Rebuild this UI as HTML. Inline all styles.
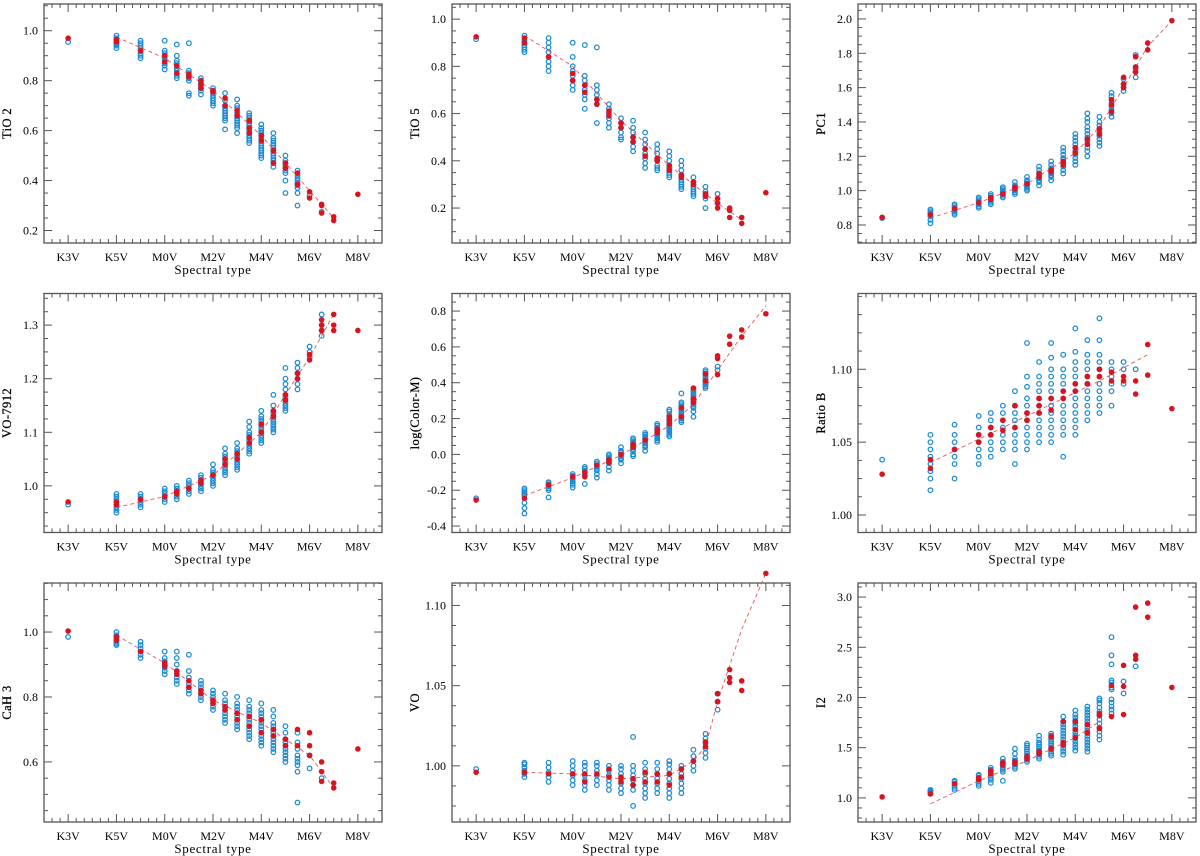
<!DOCTYPE html>
<html><head><meta charset="utf-8">
<style>
html,body{margin:0;padding:0;background:#fff;}
svg{display:block;font-family:"Liberation Serif",serif;}
</style></head>
<body>
<svg id="fig" width="1200" height="856" viewBox="0 0 1200 856"></svg>
<script>
// ---- shared data ----
const xLabels = ["K3V","K5V","M0V","M2V","M4V","M6V","M8V"];
const xLabelPos = [0,2,4,6,8,10,12];
const cols = [0,2,3,4,4.5,5,5.5,6,6.5,7,7.5,8,8.5,9,9.5,10,10.5,11,12];

// ---- panel 1: TiO 2 ----
const tio2Blue = [[0.955],[0.93,0.94,0.945,0.95,0.96,0.97,0.98],[0.89,0.90,0.91,0.92,0.93,0.94,0.95,0.96],[0.845,0.86,0.87,0.88,0.89,0.90,0.91,0.92,0.96],[0.81,0.82,0.84,0.85,0.87,0.88,0.90,0.945],[0.74,0.75,0.80,0.81,0.82,0.83,0.84,0.95],[0.745,0.76,0.77,0.78,0.79,0.80,0.81],[0.70,0.71,0.72,0.73,0.74,0.75,0.76,0.77],[0.605,0.64,0.65,0.66,0.67,0.68,0.69,0.70,0.72,0.75],[0.59,0.61,0.62,0.63,0.64,0.65,0.66,0.67,0.69,0.70,0.725],[0.55,0.56,0.57,0.58,0.59,0.60,0.61,0.62,0.63,0.64,0.65,0.66,0.67],[0.49,0.50,0.51,0.52,0.53,0.54,0.55,0.56,0.57,0.58,0.59,0.60,0.61,0.625],[0.455,0.47,0.48,0.49,0.50,0.51,0.52,0.53,0.54,0.55,0.56,0.57,0.59],[0.35,0.40,0.43,0.44,0.45,0.46,0.47,0.48,0.50],[0.30,0.35,0.37,0.38,0.39,0.40,0.41,0.42,0.44],[0.34],[0.275],[],[]];
const tio2Red = [[0.97],[0.965,0.955],[0.92],[0.90,0.875],[0.86,0.83],[0.825,0.815],[0.80,0.785,0.77],[0.76,0.755],[0.73,0.70],[0.68,0.66],[0.64,0.61,0.59],[0.58,0.56],[0.52,0.47],[0.47,0.45],[0.43,0.385],[0.355,0.33],[0.305,0.30,0.27],[0.255,0.24],[0.345]];
const tio2FitX = [2,4,6,8,10,11];
const tio2FitY = [0.975,0.89,0.76,0.58,0.36,0.25];

// ---- panel 2: TiO 5 ----
const tio5Blue = [[0.915],[0.86,0.87,0.88,0.89,0.90,0.91,0.93],[0.78,0.80,0.82,0.84,0.86,0.88,0.90,0.92],[0.70,0.72,0.74,0.76,0.78,0.80,0.84,0.90],[0.62,0.66,0.68,0.70,0.72,0.74,0.76,0.89],[0.56,0.64,0.66,0.68,0.70,0.72,0.88],[0.54,0.56,0.58,0.60,0.62,0.64],[0.49,0.50,0.52,0.54,0.56,0.58],[0.44,0.46,0.48,0.50,0.52,0.54,0.57],[0.37,0.39,0.41,0.43,0.45,0.47,0.49,0.52],[0.36,0.37,0.38,0.40,0.41,0.43,0.45,0.47],[0.33,0.34,0.35,0.36,0.37,0.38,0.40,0.42,0.44],[0.28,0.29,0.30,0.31,0.32,0.33,0.34,0.36,0.38,0.40],[0.25,0.26,0.27,0.28,0.29,0.30,0.31,0.33],[0.20,0.24,0.25,0.26,0.27,0.29],[0.22,0.26],[],[],[]];
const tio5Red = [[0.925],[0.92,0.90],[0.84],[0.77,0.74],[0.72,0.69],[0.66,0.64],[0.61,0.59],[0.56,0.54],[0.50,0.48],[0.45,0.42],[0.41,0.40],[0.38,0.36],[0.34,0.33],[0.31,0.30],[0.26,0.25],[0.24,0.22,0.20],[0.20,0.19,0.16],[0.16,0.135],[0.265]];
const tio5FitX = [2,4,6,8,10,11];
const tio5FitY = [0.93,0.80,0.57,0.38,0.22,0.15];

// ---- panel 3: PC1 ----
const pc1Blue = [[0.84],[0.81,0.83,0.85,0.86,0.87,0.88,0.89],[0.86,0.87,0.88,0.89,0.90,0.91,0.92],[0.90,0.91,0.92,0.93,0.94,0.95,0.96],[0.92,0.93,0.94,0.95,0.96,0.97,0.98],[0.96,0.97,0.98,0.99,1.00,1.01,1.02],[0.98,0.99,1.00,1.01,1.02,1.03,1.05],[1.00,1.01,1.02,1.03,1.04,1.05,1.06,1.08],[1.03,1.05,1.06,1.07,1.08,1.09,1.10,1.12,1.14],[1.06,1.08,1.09,1.10,1.11,1.12,1.13,1.15,1.17],[1.10,1.12,1.14,1.16,1.18,1.19,1.21,1.23,1.25],[1.15,1.17,1.19,1.21,1.23,1.25,1.27,1.29,1.31,1.33],[1.20,1.23,1.25,1.27,1.29,1.31,1.33,1.35,1.37,1.40,1.42,1.45],[1.26,1.28,1.30,1.32,1.34,1.36,1.38,1.40,1.43],[1.43,1.45,1.47,1.49,1.51,1.53,1.55,1.57],[1.58,1.60,1.62,1.65],[1.66,1.71,1.72,1.79],[],[]];
const pc1Red = [[0.845],[0.86],[0.895],[0.93],[0.95,0.96],[0.98],[1.01,1.02],[1.04],[1.08,1.10],[1.12,1.11],[1.17,1.15],[1.22,1.25],[1.30,1.27],[1.36,1.33],[1.50,1.53,1.46],[1.66,1.60,1.62],[1.72,1.78,1.69],[1.86,1.82],[1.99]];
const pc1FitX = [2,4,6,8,9,10,11,12];
const pc1FitY = [0.84,0.93,1.04,1.22,1.37,1.60,1.84,1.99];

// ---- panel 4: VO-7912 ----
const vo79Blue = [[0.965],[0.95,0.955,0.96,0.965,0.97,0.975,0.98,0.985],[0.96,0.965,0.97,0.975,0.98,0.985],[0.97,0.975,0.98,0.985,0.99,0.995],[0.975,0.98,0.985,0.99,0.995,1.00],[0.985,0.99,0.995,1.00,1.005,1.01],[0.99,0.995,1.00,1.005,1.01,1.015,1.02],[1.00,1.005,1.01,1.015,1.02,1.025,1.03,1.04],[1.02,1.025,1.03,1.035,1.04,1.045,1.05,1.055,1.06,1.07],[1.03,1.035,1.04,1.045,1.05,1.055,1.06,1.065,1.07,1.08],[1.06,1.065,1.07,1.075,1.08,1.085,1.09,1.095,1.10,1.11,1.12],[1.08,1.085,1.09,1.095,1.10,1.105,1.11,1.115,1.12,1.125,1.13,1.14],[1.10,1.105,1.11,1.115,1.12,1.125,1.13,1.135,1.14,1.15,1.17],[1.14,1.145,1.15,1.155,1.16,1.165,1.17,1.18,1.19,1.20,1.22],[1.18,1.19,1.20,1.21,1.22,1.23],[1.24,1.25,1.26],[1.28,1.29,1.30,1.32],[],[]];
const vo79Red = [[0.97],[0.965,0.97],[0.975],[0.98],[0.985,0.99],[0.995],[1.005,1.01],[1.02],[1.04,1.05],[1.05,1.06],[1.08,1.09],[1.10,1.115],[1.13,1.14],[1.17,1.16],[1.20,1.21],[1.235,1.245],[1.30,1.29,1.31],[1.32,1.30,1.29],[1.29]];
const vo79FitX = [2,4,6,8,9,10,11];
const vo79FitY = [0.96,0.98,1.02,1.10,1.17,1.24,1.32];

// ---- panel 5: log(Color-M) ----
const lcmBlue = [[-0.245],[-0.33,-0.30,-0.27,-0.23,-0.22,-0.21,-0.20,-0.19],[-0.24,-0.20,-0.19,-0.18,-0.17,-0.16,-0.155],[-0.185,-0.17,-0.16,-0.15,-0.14,-0.13,-0.12,-0.11],[-0.165,-0.12,-0.11,-0.10,-0.09,-0.08,-0.07],[-0.13,-0.11,-0.09,-0.08,-0.07,-0.06,-0.05,-0.04],[-0.09,-0.07,-0.05,-0.04,-0.03,-0.02,-0.01,0.00],[-0.05,-0.03,-0.02,-0.01,0.00,0.01,0.02,0.04],[-0.01,0.00,0.02,0.03,0.04,0.05,0.06,0.07,0.08,0.09],[0.02,0.04,0.05,0.06,0.07,0.08,0.09,0.10,0.11,0.12],[0.07,0.08,0.09,0.10,0.11,0.12,0.13,0.14,0.15,0.16,0.17],[0.10,0.11,0.12,0.13,0.14,0.15,0.16,0.17,0.18,0.19,0.20,0.22,0.24,0.25],[0.18,0.19,0.20,0.21,0.22,0.23,0.24,0.25,0.26,0.27,0.28,0.29,0.34],[0.21,0.24,0.26,0.27,0.28,0.29,0.30,0.31,0.32,0.33,0.34,0.35,0.36],[0.37,0.38,0.39,0.40,0.41,0.42,0.43,0.44,0.45,0.46,0.47],[0.47,0.49],[],[],[]];
const lcmRed = [[-0.255],[-0.245],[-0.17],[-0.125],[-0.10,-0.125],[-0.06],[-0.03,-0.045],[0.00],[0.04,0.055],[0.08],[0.12,0.14],[0.17,0.19,0.21],[0.21,0.26],[0.29,0.31,0.37],[0.41,0.45],[0.55,0.535,0.445],[0.66,0.615],[0.695,0.655],[0.785]];
const lcmFitX = [2,4,6,8,9,10,11,12];
const lcmFitY = [-0.23,-0.13,-0.005,0.16,0.28,0.47,0.66,0.83];

// ---- panel 6: Ratio B ----
const rbBlue = [[1.038],[1.017,1.025,1.030,1.035,1.040,1.045,1.050,1.055],[1.025,1.035,1.040,1.045,1.050,1.055,1.062],[1.035,1.040,1.045,1.050,1.055,1.060,1.068],[1.040,1.045,1.050,1.055,1.060,1.065,1.070],[1.045,1.050,1.055,1.060,1.065,1.070,1.075],[1.035,1.045,1.050,1.055,1.060,1.065,1.070,1.075,1.085],[1.045,1.050,1.055,1.060,1.065,1.070,1.075,1.080,1.088,1.095,1.118],[1.050,1.055,1.060,1.065,1.070,1.075,1.080,1.085,1.090,1.095,1.105],[1.050,1.055,1.060,1.065,1.070,1.075,1.080,1.085,1.090,1.095,1.100,1.108,1.118],[1.040,1.055,1.060,1.065,1.070,1.075,1.080,1.085,1.090,1.095,1.100,1.110],[1.055,1.060,1.065,1.070,1.075,1.080,1.085,1.090,1.095,1.100,1.105,1.112,1.128],[1.065,1.070,1.075,1.080,1.085,1.090,1.095,1.100,1.105,1.110,1.120],[1.070,1.075,1.080,1.085,1.090,1.095,1.100,1.105,1.110,1.120,1.135],[1.075,1.085,1.090,1.095,1.100,1.105],[1.090,1.100,1.105],[1.100],[],[]];
const rbRed = [[1.028],[1.038,1.032],[1.045],[1.050,1.055],[1.055,1.060],[1.058,1.065],[1.060,1.075],[1.065,1.070],[1.070,1.075,1.080],[1.072,1.080],[1.080,1.085],[1.085,1.090],[1.090,1.095],[1.095,1.100],[1.098,1.092],[1.095,1.092],[1.092,1.083],[1.117,1.096],[1.073]];
const rbFitX = [2,6,9,11];
const rbFitY = [1.036,1.068,1.092,1.110];

// ---- panel 7: CaH 3 ----
const cah3Blue = [[0.985],[0.96,0.965,0.97,0.975,0.98,0.99,1.00],[0.92,0.93,0.94,0.95,0.96,0.97],[0.87,0.88,0.89,0.90,0.91,0.92,0.94],[0.84,0.85,0.86,0.87,0.88,0.90,0.92,0.94],[0.81,0.82,0.83,0.84,0.86,0.88,0.93],[0.79,0.80,0.81,0.82,0.83,0.84,0.85],[0.76,0.77,0.78,0.79,0.80,0.81,0.82],[0.72,0.73,0.74,0.75,0.76,0.77,0.78,0.79,0.81],[0.70,0.71,0.72,0.73,0.74,0.75,0.76,0.77,0.78,0.80],[0.67,0.68,0.69,0.70,0.71,0.72,0.73,0.74,0.75,0.76,0.77,0.79],[0.65,0.66,0.67,0.68,0.69,0.70,0.71,0.72,0.73,0.74,0.75,0.76,0.78],[0.63,0.64,0.65,0.66,0.67,0.68,0.69,0.70,0.71,0.72,0.74,0.76],[0.60,0.61,0.62,0.63,0.64,0.65,0.66,0.67,0.69,0.71],[0.475,0.57,0.59,0.60,0.61,0.62,0.64,0.66,0.69],[0.62,0.58],[0.55],[],[]];
const cah3Red = [[1.003],[0.985,0.975],[0.94],[0.905,0.895],[0.88,0.87],[0.85,0.83],[0.82,0.81],[0.79,0.78],[0.77,0.76],[0.75,0.73],[0.74,0.71],[0.73,0.69],[0.70,0.68],[0.67,0.65],[0.70,0.65],[0.69,0.65,0.62],[0.60,0.57,0.54],[0.535,0.52],[0.64]];
const cah3FitX = [2,4,6,8,10,11];
const cah3FitY = [0.99,0.905,0.79,0.72,0.62,0.52];

// ---- panel 8: VO ----
const voBlue = [[0.998],[0.993,0.995,0.997,0.999,1.001,1.002],[0.990,0.993,0.996,0.999,1.002],[0.988,0.991,0.994,0.997,1.000,1.003],[0.985,0.988,0.991,0.994,0.997,1.000,1.002],[0.988,0.991,0.994,0.997,1.000,1.002],[0.985,0.988,0.991,0.994,0.997,1.000],[0.983,0.986,0.989,0.992,0.995,0.998,1.000],[0.975,0.985,0.988,0.991,0.994,0.997,1.000,1.018],[0.980,0.983,0.986,0.989,0.992,0.995,0.998,1.002],[0.983,0.986,0.989,0.992,0.995,0.998,1.002],[0.980,0.983,0.986,0.989,0.992,0.995,0.998,1.001,1.003],[0.983,0.986,0.989,0.992,0.995,0.998,1.000],[0.997,1.000,1.003,1.006,1.010],[1.005,1.008,1.011,1.014,1.017,1.020],[1.035,1.040,1.045],[],[],[]];
const voRed = [[0.996],[0.996],[0.995],[0.995],[0.990,0.995],[0.995],[0.993,0.998],[0.990,0.993],[0.992,0.988],[0.990,0.996],[0.990,0.995],[0.988,0.995],[0.993,0.998],[1.003],[1.012,1.015],[1.045,1.040],[1.060,1.055,1.052],[1.053,1.047],[1.120]];
const voFitX = [2,4,6,8,9,9.5,10,11,12];
const voFitY = [0.996,0.995,0.992,0.994,1.003,1.012,1.040,1.085,1.120];

// ---- panel 9: I2 ----
const i2Blue = [[],[1.04,1.05,1.06,1.07,1.08],[1.08,1.10,1.12,1.14,1.16,1.17],[1.12,1.14,1.16,1.18,1.20,1.22,1.23],[1.15,1.18,1.20,1.22,1.24,1.26,1.28,1.30],[1.17,1.26,1.28,1.30,1.32,1.34,1.36,1.39],[1.29,1.31,1.33,1.35,1.37,1.39,1.44,1.49],[1.36,1.38,1.40,1.42,1.44,1.46,1.48,1.50,1.52,1.54],[1.39,1.41,1.43,1.45,1.47,1.49,1.51,1.53,1.55,1.58,1.62],[1.42,1.44,1.46,1.48,1.50,1.52,1.54,1.56,1.58,1.60,1.62,1.64],[1.43,1.46,1.49,1.52,1.55,1.58,1.61,1.64,1.67,1.70,1.73,1.76,1.81],[1.47,1.50,1.53,1.56,1.59,1.62,1.65,1.68,1.71,1.74,1.77,1.80,1.83,1.87],[1.46,1.49,1.52,1.55,1.58,1.61,1.64,1.67,1.70,1.73,1.76,1.79,1.82,1.85,1.88,1.91],[1.58,1.62,1.66,1.70,1.74,1.78,1.82,1.86,1.90,1.94,1.97,1.99],[1.84,1.88,1.91,1.95,1.98,2.08,2.10,2.15,2.17,2.33,2.42,2.60],[2.04,2.16],[2.31],[],[]];
const i2Red = [[1.01],[1.04],[1.14],[1.20,1.18],[1.27,1.24],[1.35,1.33],[1.36,1.34],[1.41,1.39],[1.46,1.44],[1.61,1.49],[1.55,1.53,1.76],[1.76,1.68,1.60],[1.73,1.65],[1.84,1.82,1.69],[2.12,1.81],[2.32,2.11,1.83],[2.90,2.42,2.38],[2.94,2.80],[2.10]];
const i2FitX = [2,4,6,8,9];
const i2FitY = [0.94,1.17,1.37,1.60,1.76];

// ---- panel settings ----
const panels = [
 {name:"tio2",title:"TiO 2",left:44,top:4,ymin:0.15,ymax:1.107,ticks:[0.2,0.4,0.6,0.8,1.0],minor:0.05,dec:1,blue:tio2Blue,red:tio2Red,fx:tio2FitX,fy:tio2FitY},
 {name:"tio5",title:"TiO 5",left:452,top:4,ymin:0.052,ymax:1.064,ticks:[0.2,0.4,0.6,0.8,1.0],minor:0.05,dec:1,blue:tio5Blue,red:tio5Red,fx:tio5FitX,fy:tio5FitY},
 {name:"pc1",title:"PC1",left:858,top:4,ymin:0.695,ymax:2.087,ticks:[0.8,1.0,1.2,1.4,1.6,1.8,2.0],minor:0.05,dec:1,blue:pc1Blue,red:pc1Red,fx:pc1FitX,fy:pc1FitY},
 {name:"vo7912",title:"VO-7912",left:44,top:293.5,ymin:0.913,ymax:1.359,ticks:[1.0,1.1,1.2,1.3],minor:0.025,dec:1,blue:vo79Blue,red:vo79Red,fx:vo79FitX,fy:vo79FitY},
 {name:"log-color-m",title:"log(Color-M)",left:452,top:293.5,ymin:-0.436,ymax:0.898,ticks:[-0.4,-0.2,0.0,0.2,0.4,0.6,0.8],minor:0.05,dec:1,blue:lcmBlue,red:lcmRed,fx:lcmFitX,fy:lcmFitY},
 {name:"ratio-b",title:"Ratio B",left:858,top:293.5,ymin:0.988,ymax:1.152,ticks:[1.00,1.05,1.10],minor:0.0125,dec:2,blue:rbBlue,red:rbRed,fx:rbFitX,fy:rbFitY},
 {name:"cah3",title:"CaH 3",left:44,top:583,ymin:0.415,ymax:1.151,ticks:[0.6,0.8,1.0],minor:0.05,dec:1,blue:cah3Blue,red:cah3Red,fx:cah3FitX,fy:cah3FitY},
 {name:"vo",title:"VO",left:452,top:583,ymin:0.965,ymax:1.114,ticks:[1.00,1.05,1.10],minor:0.0125,dec:2,blue:voBlue,red:voRed,fx:voFitX,fy:voFitY},
 {name:"i2",title:"I2",left:858,top:583,ymin:0.76,ymax:3.14,ticks:[1.0,1.5,2.0,2.5,3.0],minor:0.1,dec:1,blue:i2Blue,red:i2Red,fx:i2FitX,fy:i2FitY}
];
const W=338, H=239, XMIN=-1, XMAX=13;
const NS="http://www.w3.org/2000/svg";
const svg=document.getElementById('fig');
function mk(tag,attrs,parent){const e=document.createElementNS(NS,tag);for(const k in attrs)e.setAttribute(k,attrs[k]);parent.appendChild(e);return e;}

panels.forEach(p=>{
  const sx=v=>p.left+(v-XMIN)/(XMAX-XMIN)*W;
  const sy=v=>p.top+H-(v-p.ymin)/(p.ymax-p.ymin)*H;
  const g=mk('g',{},svg);
  
  
  const tg=mk('g',{stroke:'#555','stroke-width':1},g);
  
  
  for(let u=XMIN;u<=XMAX+1e-6;u+=1/3){
    const x=sx(u); const major=xLabelPos.some(m=>Math.abs(m-u)<1e-6); const L=major?8:4;
    mk('line',{x1:x,x2:x,y1:p.top+H,y2:p.top+H-L},tg);
    mk('line',{x1:x,x2:x,y1:p.top,y2:p.top+L},tg);
  }
  const start=Math.ceil(p.ymin/p.minor-1e-6)*p.minor;
  for(let v=start;v<=p.ymax;v+=p.minor){
    const y=sy(v); const major=p.ticks.some(t=>Math.abs(t-v)<1e-6); const L=major?8:4;
    mk('line',{x1:p.left,x2:p.left+L,y1:y,y2:y},tg);
    mk('line',{x1:p.left+W,x2:p.left+W-L,y1:y,y2:y},tg);
  }
  const fr=mk('rect',{x:p.left,y:p.top,width:W,height:H,fill:'none',stroke:'#555','stroke-width':1.3},g);
  
  
  xLabels.forEach((lab,i)=>{
    const t=mk('text',{x:sx(xLabelPos[i]),y:p.top+H+18,'text-anchor':'middle','font-size':12},g);
    t.textContent=lab;
    
    
  });
  p.ticks.forEach(v=>{
    const t=mk('text',{x:p.left-6,y:sy(v)+4,'text-anchor':'end','font-size':12},g);
    t.textContent=v.toFixed(p.dec);
    
    
  });
  const xt=mk('text',{x:p.left+W/2,y:p.top+H+31,'text-anchor':'middle','font-size':13,'letter-spacing':0.7},g);
  xt.textContent='Spectral type';
  
  
  const ytx=p.left-33, yty=p.top+H/2;
  const yt=mk('text',{x:ytx,y:yty,'text-anchor':'middle','font-size':12.5,'letter-spacing':0.4,stroke:'#000','stroke-width':0.25,transform:`rotate(-90 ${ytx} ${yty})`},g);
  yt.textContent=p.title;
  
  
  const bg=mk('g',{fill:'none',stroke:'#1a8ad4','stroke-width':1.25},g);
  
  
  p.blue.forEach((arr,i)=>arr.forEach(v=>{
    const c=mk('circle',{cx:sx(cols[i]),cy:sy(v),r:2.3},bg);
    
    
  }));
  const d=p.fx.map((x,i)=>(i?'L':'M')+sx(x).toFixed(1)+' '+sy(p.fy[i]).toFixed(1)).join(' ');
  const fl=mk('path',{d:d,fill:'none',stroke:'#e8545a','stroke-width':0.9,'stroke-dasharray':'4 3'},g);
  
  
  const rg=mk('g',{fill:'#d9141f'},g);
  
  
  p.red.forEach((arr,i)=>arr.forEach(v=>{
    const c=mk('circle',{cx:sx(cols[i]),cy:sy(v),r:2.8},rg);
    
    
  }));
});
</script>
</body></html>
